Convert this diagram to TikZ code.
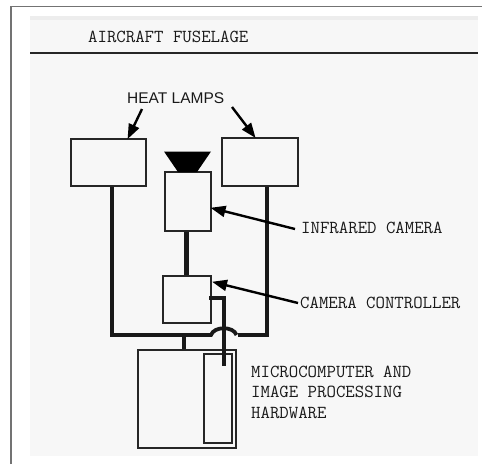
\documentclass[tikz,border=0pt]{standalone}
\usepackage{fontspec}
\setsansfont{Liberation Sans}
\usetikzlibrary{arrows.meta}
\tikzset{
  box/.style={draw=black!85, line width=1.6pt, inner sep=0pt, fill=none},
  thinbox/.style={draw=black!85, line width=1.2pt, inner sep=0pt},
  wire/.style={draw=black!90, line width=3.8pt},
  pointer/.style={draw=black, line width=2.4pt, -{Triangle[length=15pt,width=11pt]}, shorten >=-1pt},
  mono/.style={font=\ttfamily\fontsize{18.3}{20.5}\selectfont, text=black!90, inner sep=0pt, anchor=base west, align=left},
  sans/.style={font=\sffamily\fontsize{15.5}{18}\selectfont, text=black!90, inner sep=0pt, anchor=base west}
}
\begin{document}
\begin{tikzpicture}[x=1pt,y=-1pt]
\useasboundingbox (0,0) rectangle (482,464);
% page frame and panel
\fill[white] (0,0) rectangle (482,464);
\fill[black!3] (30,16) rectangle (478,456);
\fill[black!7] (30,16) rectangle (478,20);
\draw[black!55, line width=1.3pt] (11,464) -- (11,6.5) -- (482,6.5);
% fuselage
\node[mono] (fus) at (88,42) {AIRCRAFT FUSELAGE};
\coordinate (fusL) at (30,52.5);
\coordinate (fusR) at (478,52.5);
\draw[black!85, line width=2pt] (fusL) -- (fusR);

% boxes
\node[box, minimum width=75pt, minimum height=47pt] (lampL) at (108.5,162.5) {};
\node[box, minimum width=76pt, minimum height=48pt] (lampR) at (260,162) {};
\node[box, minimum width=46pt, minimum height=59pt] (cam) at (188,201.5) {};
\node[box, minimum width=48pt, minimum height=47pt] (ctrl) at (187,299.5) {};
\node[thinbox, minimum width=98pt, minimum height=98pt] (micro) at (187,399) {};
\node[thinbox, minimum width=28pt, minimum height=89pt] (inner) at (218,398.5) {};

% lamp of camera (trapezoid)
\coordinate (lampTL) at (164,151.5);
\coordinate (lampTR) at (211,151.5);
\coordinate (lampBR) at (197,172);
\coordinate (lampBL) at (178,172);
\fill[black] (lampTL) -- (lampTR) -- (lampBR) -- (lampBL) -- cycle;

% wires
\coordinate (bl) at (112,335);
\coordinate (hopA) at (211,335);
\coordinate (hopB) at (236.5,335);
\coordinate (br0) at (238,335);
\coordinate (br) at (267,335);
\draw[wire, line join=miter] (lampL.south -| 112,0) -- (bl) -- (hopA)
   .. controls (214,326) and (233.5,326) .. (hopB);
\draw[wire, line join=miter] (br0) -- (br) -- (lampR.south -| 267,0);
\draw[wire] (184,335) -- (micro.north -| 184,0);
\draw[wire, line width=5pt] (cam.south -| 186,0) -- (ctrl.north -| 186,0);
\coordinate (cw0) at (209,298);
\coordinate (cw1) at (224,298);
\coordinate (cwEnd) at (224,366);
\draw[wire, line join=miter] (cw0) -- (cw1) -- (cwEnd);

% labels
\node[sans] (heat) at (127,103) {HEAT LAMPS};
\node[mono] (irl) at (301,233) {INFRARED CAMERA};
\node[mono] (ccl) at (300,308) {CAMERA CONTROLLER};
\node[mono] (mcl) at (251,418) {MICROCOMPUTER AND\\IMAGE PROCESSING\\HARDWARE};

% pointers
\coordinate (hL) at (142,109);
\coordinate (hR) at (232,107);
\coordinate (irS) at (295,229);
\coordinate (ccS) at (298,303);
\draw[pointer] (hL) -- (lampL.north -| 128,0);
\draw[pointer] (hR) -- (lampR.north -| 255,0);
\draw[pointer] (irS) -- (211.5,208);
\draw[pointer] (ccS) -- (213,282);
\end{tikzpicture}
\end{document}
